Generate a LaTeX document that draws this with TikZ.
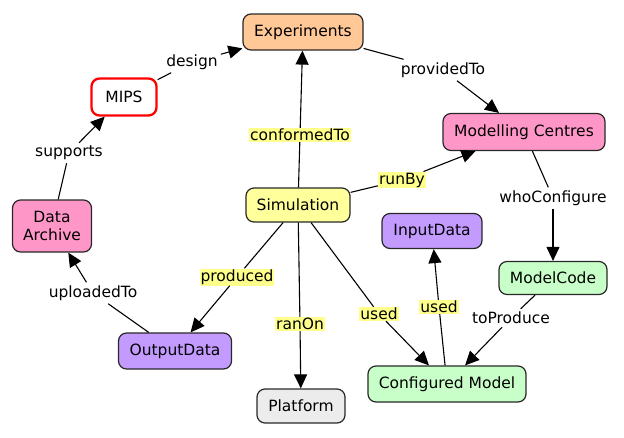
\documentclass[tikz,border=0pt]{standalone}
\usepackage{fontspec}
\setmainfont{DejaVu Sans}
\usetikzlibrary{arrows.meta}
\definecolor{peach}{RGB}{255,200,150}
\definecolor{pinkc}{RGB}{255,150,200}
\definecolor{simyel}{RGB}{255,255,155}
\definecolor{purp}{RGB}{195,155,255}
\definecolor{mint}{RGB}{200,255,200}
\definecolor{greyc}{RGB}{236,236,236}
\definecolor{hlyel}{RGB}{255,255,140}
\definecolor{edgec}{RGB}{40,40,40}
\begin{document}
\begin{tikzpicture}[x=1pt,y=-1pt,
  concept/.style={draw=edgec, line width=1.2pt, rounded corners=8pt, inner sep=0pt,
    font=\fontsize{15.5}{18}\selectfont, align=center},
  lbl/.style={inner sep=3pt, font=\fontsize{15.5}{18}\selectfont},
  hl/.style={inner sep=1pt, fill=hlyel, font=\fontsize{15.5}{18}\selectfont},
  link/.style={line width=1.1pt, draw=black},
  arr/.style={link, -{Triangle[length=14pt,width=13pt]}}]
\useasboundingbox (0,0) rectangle (624,437);

% concepts
\node[concept, fill=peach, minimum width=120pt, minimum height=36pt] (exp) at (303,32) {Experiments};
\node[concept, draw=red, line width=2.3pt, fill=white, minimum width=65pt, minimum height=37pt] (mips) at (124,97) {MIPS};
\node[concept, fill=pinkc, minimum width=79pt, minimum height=52pt] (da) at (52,226) {Data\\Archive};
\node[concept, fill=simyel, minimum width=104pt, minimum height=34pt] (sim) at (298,205) {Simulation};
\node[concept, fill=pinkc, minimum width=162pt, minimum height=37pt] (mc) at (524,132) {Modelling Centres};
\node[concept, fill=purp, minimum width=100pt, minimum height=35pt] (id) at (432,231) {InputData};
\node[concept, fill=mint, minimum width=108pt, minimum height=33pt] (mcode) at (553,278) {ModelCode};
\node[concept, fill=purp, minimum width=113pt, minimum height=36pt] (od) at (175,351) {OutputData};
\node[concept, fill=greyc, minimum width=88pt, minimum height=34pt] (plat) at (301,406) {Platform};
\node[concept, fill=mint, minimum width=158pt, minimum height=36pt] (cm) at (447,384) {Configured Model};

% labels
\node[lbl] (ldesign) at (192,62) {design};
\node[lbl] (lsupports) at (69,153) {supports};
\node[hl] (lconf) at (300,135) {conformedTo};
\node[lbl] (lprov) at (443,70) {providedTo};
\node[hl] (lrun) at (402,180) {runBy};
\node[lbl] (lwho) at (553,198) {whoConfigure};
\node[hl] (lprod) at (237,277) {produced};
\node[lbl] (lup) at (93,293) {uploadedTo};
\node[hl] (lran) at (300,324) {ranOn};
\node[hl] (lused1) at (379,314) {used};
\node[hl] (lused2) at (439,307) {used};
\node[lbl] (ltop) at (511,318) {toProduce};

% connectors
\draw[link] (mips) -- (ldesign);  \draw[arr] (ldesign) -- (exp);
\draw[link] (da) -- (lsupports);  \draw[arr] (lsupports) -- (mips);
\draw[link] (sim) -- (lconf);     \draw[arr] (lconf) -- (exp);
\draw[link] (exp) -- (lprov);     \draw[arr] (lprov) -- (mc);
\draw[link] (sim) -- (lrun);      \draw[arr] (lrun) -- (mc);
\draw[link] (mc) -- (lwho);       \draw[arr] (lwho) -- (mcode);
\draw[link] (sim) -- (lprod);     \draw[arr] (lprod) -- (od);
\draw[link] (od) -- (lup);        \draw[arr] (lup) -- (da);
\draw[link] (sim) -- (lran);      \draw[arr] (lran) -- (plat);
\draw[link] (sim) -- (lused1);    \draw[arr] (lused1) -- (cm);
\draw[link] (cm) -- (lused2);     \draw[arr] (lused2) -- (id);
\draw[link] (mcode) -- (ltop);    \draw[arr] (ltop) -- (cm);
\end{tikzpicture}
\end{document}
